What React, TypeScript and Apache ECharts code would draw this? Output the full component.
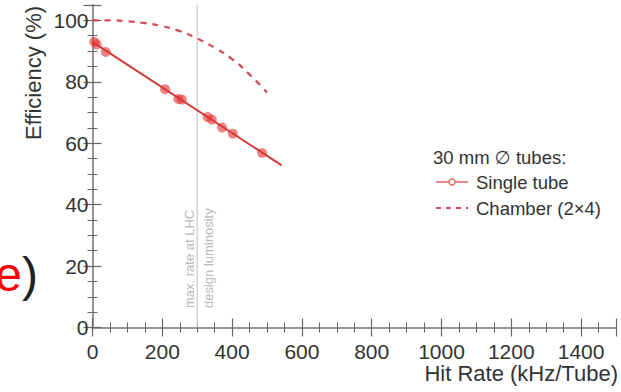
import React, { useEffect, useRef } from "react";
import * as echarts from "echarts";

const singleTubeX = [5, 12, 38, 208, 246, 256, 330, 342, 371, 402, 486];
const singleTubeY = [93.0, 92.2, 89.7, 77.6, 74.4, 74.2, 68.5, 67.7, 65.1, 63.1, 56.8];
const fitX = [0, 542];
const fitY = [93.0, 52.8];
const chamberX = [0, 50, 100, 150, 200, 250, 300, 350, 400, 450, 500];
const chamberY = [100, 100, 99.7, 99.1, 98.1, 96.5, 94.1, 91.1, 87.4, 82.4, 76.5];
const lhcRate = 300;

const RED = "#d23a3a";
const AXIS = "#666";
const LABEL = "#333";
const FONT = "Liberation Sans, Arial, Helvetica, sans-serif";

export default function App() {
  const ref = useRef<HTMLDivElement>(null);
  useEffect(() => {
    if (!ref.current) return;
    const chart = echarts.init(ref.current, undefined, { renderer: "svg" });
    const tickCommon = {
      axisLine: { show: true, lineStyle: { color: AXIS, width: 1.5 } },
      axisTick: { show: true, inside: true, length: 9, lineStyle: { color: AXIS, width: 1.2 } },
      minorTick: { show: true, splitNumber: 4, length: 5, lineStyle: { color: AXIS, width: 1 } },
      splitLine: { show: false },
    };
    const fmt = (v: number) => String(v);
    chart.setOption({
      animation: false,
      backgroundColor: "#fff",
      grid: { left: 92.5, top: 5, right: 5, bottom: 64.5, containLabel: false },
      xAxis: [
        {
          type: "value", min: 0, max: 1500, interval: 200, position: "bottom",
          ...tickCommon,
          axisLabel: { show: true, showMaxLabel: false, formatter: fmt, color: LABEL, fontSize: 21, fontFamily: FONT, margin: 13 },
        },
        {
          type: "value", min: 0, max: 1500, interval: 200, position: "top",
          ...tickCommon,
          axisLine: { show: true, lineStyle: { color: "#999", width: 1.5 } },
          axisLabel: { show: false },
        },
      ],
      yAxis: [
        {
          type: "value", min: 0, max: 105, interval: 20, position: "left",
          ...tickCommon,
          axisLabel: { show: true, showMaxLabel: false, formatter: fmt, color: LABEL, fontSize: 21, fontFamily: FONT, margin: 4 },
        },
        {
          type: "value", min: 0, max: 105, interval: 20, position: "right",
          ...tickCommon,
          axisLine: { show: true, lineStyle: { color: "#999", width: 1.5 } },
          axisLabel: { show: false },
        },
      ],
      series: [
        {
          type: "line",
          data: [[lhcRate, 0], [lhcRate, 105]],
          symbol: "none",
          lineStyle: { color: "#c8c8c8", width: 1.2 },
          silent: true,
          z: 1,
        },
        {
          name: "Chamber (2×4)",
          type: "line",
          data: chamberX.map((x, i) => [x, chamberY[i]]),
          symbol: "none",
          smooth: true,
          lineStyle: { color: "#d24a55", width: 2.2, type: [6, 6] },
          z: 2,
        },
        {
          name: "fit",
          type: "line",
          data: fitX.map((x, i) => [x, fitY[i]]),
          symbol: "none",
          lineStyle: { color: RED, width: 2 },
          z: 3,
        },
        {
          name: "Single tube",
          type: "scatter",
          data: singleTubeX.map((x, i) => [x, singleTubeY[i]]),
          symbol: "circle",
          symbolSize: 10,
          itemStyle: { color: "rgba(226,50,50,0.75)" },
          z: 4,
        },
      ],
      graphic: [
        {
          type: "text", x: 33, y: 73, rotation: Math.PI / 2,
          style: { text: "Efficiency (%)", fill: LABEL, fontSize: 22, fontFamily: FONT, align: "center", verticalAlign: "middle" },
        },
        {
          type: "text", x: 618, y: 373,
          style: { text: "Hit Rate (kHz/Tube)", fill: LABEL, fontSize: 22, fontFamily: FONT, align: "right", verticalAlign: "middle" },
        },
        {
          type: "text", x: 196, y: 308, rotation: Math.PI / 2,
          style: { text: "max. rate at LHC", fill: "#b8b8b8", fontSize: 13, fontFamily: FONT, align: "left", verticalAlign: "bottom" },
        },
        {
          type: "text", x: 202, y: 308, rotation: Math.PI / 2,
          style: { text: "design luminosity", fill: "#b8b8b8", fontSize: 13, fontFamily: FONT, align: "left", verticalAlign: "top" },
        },
        {
          type: "text", x: 433, y: 157,
          style: {
            text: "{a|30 mm }{d|∅}{a| tubes:}",
            align: "left", verticalAlign: "middle",
            rich: {
              a: { fill: LABEL, fontSize: 18.5, fontFamily: FONT },
              d: { fill: LABEL, fontSize: 18.5, fontFamily: "DejaVu Sans" },
            },
          },
        },
        {
          type: "line", shape: { x1: 436, y1: 182, x2: 468, y2: 182 },
          style: { stroke: "#e06060", lineWidth: 1.5 },
        },
        {
          type: "circle", shape: { cx: 452, cy: 182, r: 3 },
          style: { fill: "#fff", stroke: "#e06060", lineWidth: 1.3 },
        },
        {
          type: "text", x: 476, y: 182,
          style: { text: "Single tube", fill: LABEL, fontSize: 18.5, fontFamily: FONT, align: "left", verticalAlign: "middle" },
        },
        {
          type: "line", shape: { x1: 436, y1: 208, x2: 468, y2: 208 },
          style: { stroke: "#d24a55", lineWidth: 2, lineDash: [5, 5] },
        },
        {
          type: "text", x: 476, y: 208,
          style: { text: "Chamber (2×4)", fill: LABEL, fontSize: 18.5, fontFamily: FONT, align: "left", verticalAlign: "middle" },
        },
        {
          type: "text", x: 38, y: 274,
          style: {
            text: "{r|e}{k|)}",
            align: "right",
            verticalAlign: "middle",
            rich: {
              r: { fill: "#ff0000", fontSize: 48, fontFamily: FONT },
              k: { fill: "#222", fontSize: 48, fontFamily: FONT },
            },
          },
        },
      ],
    });
    return () => chart.dispose();
  }, []);
  return <div ref={ref} style={{ position: "fixed", left: 0, top: 0, width: 621, height: 392 }} />;
}
